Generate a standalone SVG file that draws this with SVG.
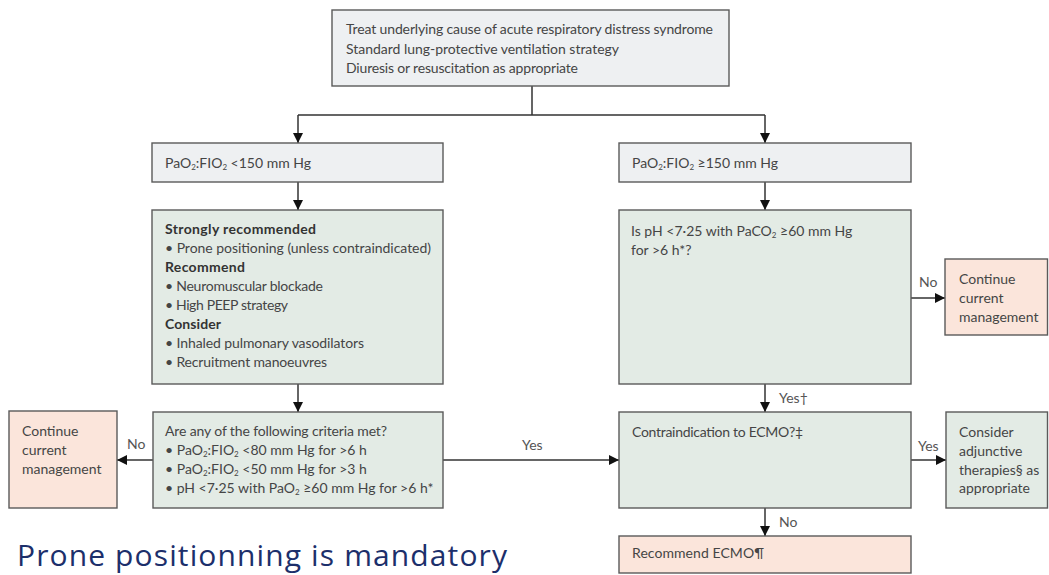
<svg xmlns="http://www.w3.org/2000/svg" width="1049" height="575" viewBox="0 0 1049 575">
<defs>
<marker id="ah" viewBox="0 0 10 10" refX="10" refY="5" markerWidth="10" markerHeight="10" markerUnits="userSpaceOnUse" orient="auto">
<path d="M0,0 L10,5 L0,10 z" fill="#111"/>
</marker>
<style>
.box{stroke:#5a5a5a;stroke-width:1.4}
.grey{fill:#eef0f2}
.green{fill:#e3ebe5}
.pink{fill:#fbe5db}
.t{font-family:Lato,"Liberation Sans",sans-serif;font-size:14px;fill:#454545}
.b{font-weight:bold;fill:#333}
.lbl{font-family:Lato,"Liberation Sans",sans-serif;font-size:14px;fill:#555}
.sub{font-size:8px;baseline-shift:-2px}
.conn{stroke:#333;stroke-width:1.5;fill:none}
.arr{marker-end:url(#ah)}
</style>
</defs>
<rect width="1049" height="575" fill="#fff"/>

<g id="connectors">
<path class="conn" d="M532 86 V115 M298 115 H765"/>
<path class="conn arr" d="M298 115 V143"/>
<path class="conn arr" d="M765 115 V143"/>
<path class="conn arr" d="M298 182 V210"/>
<path class="conn arr" d="M765 182 V210"/>
<path class="conn arr" d="M298 384 V412"/>
<path class="conn arr" d="M765 384 V412"/>
<path class="conn arr" d="M911 298 H945"/>
<path class="conn arr" d="M153 460 H117"/>
<path class="conn arr" d="M443 460 H619"/>
<path class="conn arr" d="M911 460 H946"/>
<path class="conn arr" d="M765 508 V536"/>
<text class="lbl" x="919" y="287">No</text>
<text class="lbl" x="127" y="449">No</text>
<text class="lbl" x="522" y="450">Yes</text>
<text class="lbl" x="779" y="403">Yes†</text>
<text class="lbl" x="918" y="451">Yes</text>
<text class="lbl" x="779" y="527">No</text>
</g>

<g id="n-top">
<rect class="box grey" x="332" y="10" width="397" height="76"/>
<text class="t" x="346" y="34" textLength="367">Treat underlying cause of acute respiratory distress syndrome</text>
<text class="t" x="346" y="54" textLength="273">Standard lung-protective ventilation strategy</text>
<text class="t" x="346" y="73" textLength="232">Diuresis or resuscitation as appropriate</text>
</g>

<g id="n-pao2-low">
<rect class="box grey" x="152" y="143" width="291" height="39"/>
<text class="t" x="165" y="168">PaO<tspan class="sub">2</tspan>:FIO<tspan class="sub">2</tspan>  &lt;150 mm Hg</text>
</g>

<g id="n-pao2-high">
<rect class="box grey" x="619" y="143" width="292" height="39"/>
<text class="t" x="632" y="168">PaO<tspan class="sub">2</tspan>:FIO<tspan class="sub">2</tspan> ≥150 mm Hg</text>
</g>

<g id="n-recommend">
<rect class="box green" x="152" y="210" width="291" height="174"/>
<text class="t b" x="165" y="234" textLength="151">Strongly recommended</text>
<text class="t" x="165" y="253" textLength="266">• Prone positioning (unless contraindicated)</text>
<text class="t b" x="165" y="272" textLength="80">Recommend</text>
<text class="t" x="165" y="291" textLength="158">• Neuromuscular blockade</text>
<text class="t" x="165" y="310" textLength="123">• High PEEP strategy</text>
<text class="t b" x="165" y="329" textLength="56">Consider</text>
<text class="t" x="165" y="348" textLength="199">• Inhaled pulmonary vasodilators</text>
<text class="t" x="165" y="367" textLength="162">• Recruitment manoeuvres</text>
</g>

<g id="n-ph">
<rect class="box green" x="619" y="210" width="292" height="174"/>
<text class="t" x="631" y="236">Is pH &lt;7·25 with PaCO<tspan class="sub">2</tspan> ≥60 mm Hg</text>
<text class="t" x="631" y="255">for &gt;6 h*?</text>
</g>

<g id="n-continue-right">
<rect class="box pink" x="945" y="259" width="102.5" height="76"/>
<text class="t" x="959" y="284">Continue</text>
<text class="t" x="959" y="303">current</text>
<text class="t" x="959" y="322">management</text>
</g>

<g id="n-criteria">
<rect class="box green" x="153" y="412" width="290" height="96"/>
<text class="t" x="165" y="436" textLength="222">Are any of the following criteria met?</text>
<text class="t" x="165" y="455">• PaO<tspan class="sub">2</tspan>:FIO<tspan class="sub">2</tspan> &lt;80 mm Hg for &gt;6 h</text>
<text class="t" x="165" y="474">• PaO<tspan class="sub">2</tspan>:FIO<tspan class="sub">2</tspan> &lt;50 mm Hg for &gt;3 h</text>
<text class="t" x="165" y="493">• pH &lt;7·25 with PaO<tspan class="sub">2</tspan> ≥60 mm Hg for &gt;6 h*</text>
</g>

<g id="n-continue-left">
<rect class="box pink" x="9" y="411" width="108" height="97"/>
<text class="t" x="22" y="436">Continue</text>
<text class="t" x="22" y="455">current</text>
<text class="t" x="22" y="474">management</text>
</g>

<g id="n-contra">
<rect class="box green" x="619" y="412" width="292" height="96"/>
<text class="t" x="632" y="437" textLength="171">Contraindication to ECMO?‡</text>
</g>

<g id="n-adjunct">
<rect class="box green" x="946" y="412" width="101.5" height="96"/>
<text class="t" x="959" y="437">Consider</text>
<text class="t" x="959" y="456">adjunctive</text>
<text class="t" x="959" y="475">therapies§ as</text>
<text class="t" x="959" y="493">appropriate</text>
</g>

<g id="n-ecmo">
<rect class="box pink" x="619" y="536" width="292" height="37"/>
<text class="t" x="632" y="558" textLength="132">Recommend ECMO¶</text>
</g>

<text x="17" y="566" font-family="'Open Sans','Noto Sans',sans-serif" font-size="30" fill="#1c2f6b" textLength="490">Prone positionning is mandatory</text>
</svg>
